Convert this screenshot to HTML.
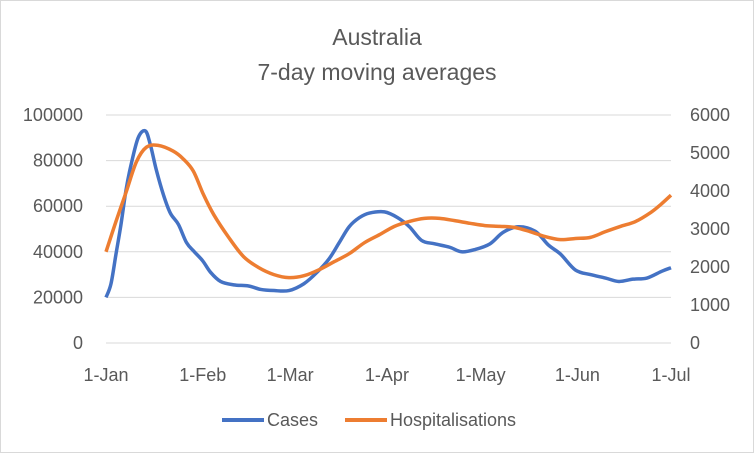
<!DOCTYPE html>
<html><head><meta charset="utf-8"><style>
body{margin:0;background:#fff;}
#c{position:relative;width:754px;height:453px;font-family:"Liberation Sans",sans-serif;}
svg text{font-family:"Liberation Sans",sans-serif;fill:#595959;}
</style></head><body>
<div id="c">
<svg id="s" width="754" height="453">
<rect x="0.5" y="0.5" width="753" height="452" fill="#fff" stroke="#d9d9d9"/>
<text x="377" y="45" text-anchor="middle" font-size="23">Australia</text>
<text x="377" y="80" text-anchor="middle" font-size="23">7-day moving averages</text>
<g id="grid"></g><g id="axes"></g><g id="lines"></g>
<g>
<line x1="222" y1="420" x2="264" y2="420" stroke="#4472c4" stroke-width="4"/>
<text x="267" y="426" font-size="18">Cases</text>
<line x1="345" y1="420" x2="387" y2="420" stroke="#ed7d31" stroke-width="4"/>
<text x="390" y="426" font-size="18">Hospitalisations</text>
</g>
</svg></div>
<script>
const caseDays=[0,1.6,3.2,4.8,6.4,8,10.3,12.6,14.2,16.1,18.4,20.6,23.2,25.8,28.3,31,33.5,36.7,40.9,45.7,49.6,53.8,58.6,63.4,67.6,71.5,74.7,77.9,81.2,84.4,89.2,93.4,97.2,101.1,105.3,110.1,113.9,118.2,123,127.2,132,137.5,141.7,145.6,150.4,155.2,160,164.3,168.8,173.3,178.1,181];
const caseVals=[20000,26000,39000,52000,67000,78000,90000,93000,87000,76000,65000,57000,52000,44000,40000,36000,31000,27000,25500,25000,23500,23000,23000,26000,31000,37000,44000,51000,55000,57000,57500,55000,51000,45000,43500,42000,40000,41000,43500,48500,51000,49000,43000,39000,32000,30000,28500,27000,28000,28500,31500,33000];
const hospDays=[0,3.2,6.4,9.7,12.9,16.7,21.5,24.8,28,31.2,34.5,39.3,44.1,49,53.8,58.6,63.4,68.3,73.1,77.9,82.8,87.6,92.4,97.2,102,106.9,111.7,116.6,121.4,126.2,131,135.9,140.7,145.6,150.4,155.2,160,164.9,169.7,174.6,177.8,181];
const hospVals=[2400,3200,3960,4760,5150,5200,5050,4840,4520,3910,3380,2780,2270,1980,1800,1720,1770,1930,2140,2350,2640,2850,3070,3200,3280,3280,3220,3150,3090,3070,3040,2930,2800,2720,2750,2780,2930,3070,3200,3440,3650,3890];
const leftTicks=[0,20000,40000,60000,80000,100000];
const rightTicks=[0,1000,2000,3000,4000,5000,6000];
const xTickDays=[0,31,59,90,120,151,181];
const xTickLabels=["1-Jan","1-Feb","1-Mar","1-Apr","1-May","1-Jun","1-Jul"];
const X0=106,X1=671,Y0=343,Y1=115;
const xs=d=>X0+(X1-X0)*d/181;
const yl=v=>Y0-(Y0-Y1)*v/100000;
const yr=v=>Y0-(Y0-Y1)*v/6000;
const NS="http://www.w3.org/2000/svg";
function mk(t,a,p){const e=document.createElementNS(NS,t);for(const k in a)e.setAttribute(k,a[k]);p.appendChild(e);return e;}
function smooth(pts){let d='M'+pts[0][0]+','+pts[0][1];for(let i=0;i<pts.length-1;i++){const p0=pts[i-1]||pts[i],p1=pts[i],p2=pts[i+1],p3=pts[i+2]||p2;const c1=[p1[0]+(p2[0]-p0[0])/6,p1[1]+(p2[1]-p0[1])/6],c2=[p2[0]-(p3[0]-p1[0])/6,p2[1]-(p3[1]-p1[1])/6];d+=' C'+c1+' '+c2+' '+p2;}return d;}
const grid=document.getElementById('grid'),axes=document.getElementById('axes'),lines=document.getElementById('lines');
leftTicks.forEach(v=>{
 const g=mk('line',{x1:X0,x2:X1,y1:yl(v),y2:yl(v),stroke:'#d9d9d9','stroke-width':1},grid);
 
 
 const t=mk('text',{x:83,y:yl(v)+6,'text-anchor':'end','font-size':18},axes);t.textContent=v;
 
 
});
rightTicks.forEach(v=>{
 const t=mk('text',{x:690,y:yr(v)+6,'font-size':18},axes);t.textContent=v;
 
 
});
xTickDays.forEach((d,i)=>{
 const t=mk('text',{x:xs(d),y:381,'text-anchor':'middle','font-size':18},axes);t.textContent=xTickLabels[i];
 
 
});
const cp=mk('path',{d:smooth(caseDays.map((d,i)=>[xs(d),yl(caseVals[i])])),fill:'none',stroke:'#4472c4','stroke-width':3.5,'stroke-linejoin':'round'},lines);


const hp=mk('path',{d:smooth(hospDays.map((d,i)=>[xs(d),yr(hospVals[i])])),fill:'none',stroke:'#ed7d31','stroke-width':3.5,'stroke-linejoin':'round'},lines);


</script>
</body></html>
